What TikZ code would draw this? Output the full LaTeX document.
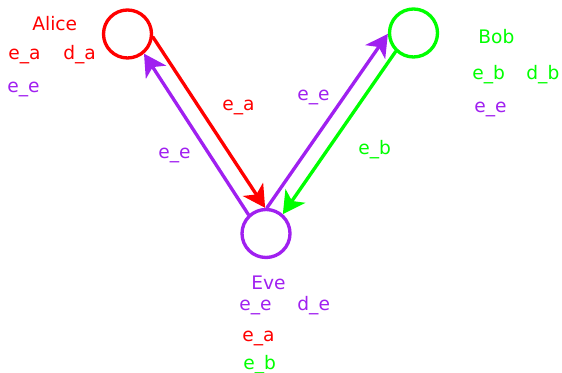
\documentclass[tikz,border=0pt]{standalone}
\usepackage{fontspec}
\setmainfont{DejaVu Sans}
\usepackage{tikz}
\usetikzlibrary{arrows.meta}
\definecolor{keyred}{HTML}{FF0000}
\definecolor{keygreen}{HTML}{00FF00}
\definecolor{keypurple}{HTML}{A020F0}
\tikzset{
  party/.style={draw, circle, line width=1.9pt, minimum size=0.96cm, inner sep=0pt},
  lbl/.style={font=\fontsize{10.6}{12.7}\selectfont, inner sep=0pt, anchor=base west},
  msg/.style={-{Stealth[length=4.4mm, width=4.8mm, inset=1.2mm]}, line width=1.9pt}
}
\begin{document}
\begin{tikzpicture}[x=1cm,y=1cm, line cap=round, line join=round]
\useasboundingbox (0,0) rectangle (11.24,-7.46);

% Parties
\node[party, keyred] (alice) at (2.55,-0.68) {};
\node[party, keygreen] (bob) at (8.27,-0.66) {};
\node[party, keypurple] (eve) at (5.32,-4.67) {};

% Names and keys
\node[lbl, keyred] (alicename) at (0.64,-0.614) {Alice};
\node[lbl, keyred] (aliceenc) at (0.16,-1.20) {e\_a};
\node[lbl, keyred] (alicedec) at (1.26,-1.20) {d\_a};
\node[lbl, keypurple] (aliceeve) at (0.14,-1.85) {e\_e};

\node[lbl, keygreen] (bobname) at (9.56,-0.866) {Bob};
\node[lbl, keygreen] (bobenc) at (9.44,-1.586) {e\_b};
\node[lbl, keygreen] (bobdec) at (10.52,-1.586) {d\_b};
\node[lbl, keypurple] (bobeve) at (9.48,-2.254) {e\_e};

\node[lbl, keypurple] (evename) at (5.02,-5.786) {Eve};
\node[lbl, keypurple] (eveenc) at (4.78,-6.22) {e\_e};
\node[lbl, keypurple] (evedec) at (5.94,-6.22) {d\_e};
\node[lbl, keyred] (evealice) at (4.84,-6.834) {e\_a};
\node[lbl, keygreen] (evebob) at (4.86,-7.40) {e\_b};

% Messages
\draw[msg, keyred] (alice.-7) -- (eve.92);
\draw[msg, keypurple] (eve.133) -- (alice.-50);
\draw[msg, keypurple] (eve.88) -- (bob.182);
\draw[msg, keygreen] (bob.-134) -- (eve.49);

% Message labels
\node[lbl, keyred] (lblae) at (4.44,-2.214) {e\_a};
\node[lbl, keypurple] (lbleb) at (5.94,-2.014) {e\_e};
\node[lbl, keypurple] (lblea) at (3.16,-3.166) {e\_e};
\node[lbl, keygreen] (lblbe) at (7.16,-3.10) {e\_b};
\end{tikzpicture}
\end{document}
